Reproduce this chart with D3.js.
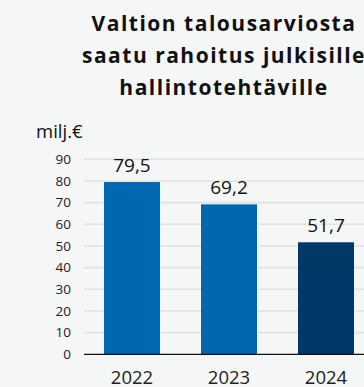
<!DOCTYPE html>
<html>
<head>
<meta charset="utf-8">
<script src="https://cdn.jsdelivr.net/npm/d3@7/dist/d3.min.js"></script>
<style>
  html, body { margin: 0; padding: 0; background: #f5f7f7; }
  svg { display: block; font-family: "Open Sans", "Noto Sans", sans-serif; }
</style>
</head>
<body>
<svg id="chart" width="364" height="387"></svg>
<script>
// Funding from the state budget for public administrative tasks (million €)
const years = ["2022", "2023", "2024"];
const funding = [79.5, 69.2, 51.7];
const barColors = ["#0067b1", "#0067b1", "#023868"];
const yTicks = [0, 10, 20, 30, 40, 50, 60, 70, 80, 90];
const titleLines = ["Valtion talousarviosta", "saatu rahoitus julkisille", "hallintotehtäville"];
const unitLabel = "milj.€";

const svg = d3.select("#chart");
const W = 364;
const FONT = "'Open Sans', 'Noto Sans', sans-serif";

const y = d3.scaleLinear().domain([0, 90]).range([354.3, 159.3]);
const x = d3.scaleBand().domain(years).range([84, 374])
  .paddingInner(0.4227).paddingOuter(0.206);

// Title
svg.append("g").selectAll("text").data(titleLines).join("text")
  .attr("x", 224)
  .attr("y", (d, i) => 31 + i * 32)
  .attr("text-anchor", "middle")
  .attr("font-size", 21)
  .attr("font-weight", 700)
  .attr("letter-spacing", 1.5)
  .attr("fill", "#111")
  .text(d => d);

// Unit label
svg.append("text")
  .attr("x", 36).attr("y", 138)
  .attr("font-size", 18.5)
  .attr("fill", "#111")
  .text(unitLabel);

// Gridlines
svg.append("g").selectAll("line").data(yTicks.filter(t => t > 0)).join("line")
  .attr("x1", 84).attr("x2", W)
  .attr("y1", d => y(d)).attr("y2", d => y(d))
  .attr("stroke", "#e1e3e3").attr("stroke-width", 1.6);

// Y axis labels
const yAxis = d3.axisLeft(y).tickValues(yTicks).tickSize(0).tickPadding(0)
  .tickFormat(d3.format("d"));
const gy = svg.append("g").attr("transform", "translate(71,0)").call(yAxis);
gy.select(".domain").remove();
gy.selectAll("text")
  .attr("font-family", FONT)
  .attr("font-size", 13.5)
  .attr("fill", "#222");

// Bars
svg.append("g").selectAll("rect").data(years).join("rect")
  .attr("x", d => x(d))
  .attr("width", x.bandwidth())
  .attr("y", (d, i) => y(funding[i]))
  .attr("height", (d, i) => y(0) - y(funding[i]))
  .attr("fill", (d, i) => barColors[i]);

// Value labels
const fmt = v => d3.format(".1f")(v).replace(".", ",");
svg.append("g").selectAll("text").data(years).join("text")
  .attr("x", d => x(d) + x.bandwidth() / 2)
  .attr("y", (d, i) => y(funding[i]) - 10)
  .attr("text-anchor", "middle")
  .attr("font-size", 19)
  .attr("fill", "#111")
  .text((d, i) => fmt(funding[i]));

// Baseline
svg.append("line")
  .attr("x1", 84).attr("x2", W)
  .attr("y1", y(0)).attr("y2", y(0))
  .attr("stroke", "#111").attr("stroke-width", 1.2);

// X axis labels
const xAxis = d3.axisBottom(x).tickSize(0).tickPadding(0);
const gx = svg.append("g").attr("transform", "translate(0,383.5)").call(xAxis);
gx.select(".domain").remove();
gx.selectAll("text")
  .attr("dy", 0)
  .attr("font-family", FONT)
  .attr("font-size", 18.5)
  .attr("fill", "#222");
</script>
</body>
</html>
